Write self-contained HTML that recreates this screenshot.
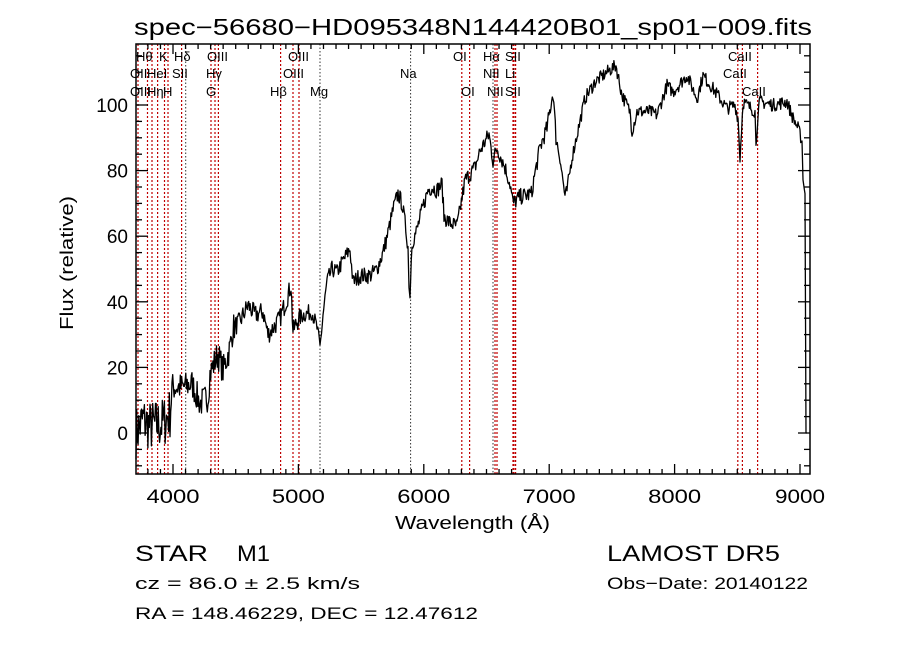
<!DOCTYPE html>
<html><head><meta charset="utf-8"><style>
html,body{margin:0;padding:0;background:#fff;}
svg{display:block;}
text{font-family:"Liberation Sans",sans-serif;fill:#000;}
</style></head><body>
<svg id="s" width="900" height="649" viewBox="0 0 900 649" xmlns="http://www.w3.org/2000/svg">
<rect width="900" height="649" fill="#fff"/>
<text x="473" y="35" font-size="23" text-anchor="middle" textLength="678" lengthAdjust="spacingAndGlyphs">spec−56680−HD095348N144420B01_sp01−009.fits</text>
<g id="lines"></g>
<g id="ticks" stroke="#000" stroke-width="1.3"></g>
<rect x="136" y="44" width="674" height="430" fill="none" stroke="#000" stroke-width="1.5"/>
<polyline id="spec" fill="none" stroke="#000" stroke-width="1.3" stroke-linejoin="round"/>
<g font-size="13" id="lab">
<text x="136" y="61">Hθ</text><text x="159" y="61">K</text><text x="174" y="61">Hδ</text><text x="207" y="61">OIII</text><text x="288" y="61">OIII</text><text x="453" y="61">OI</text><text x="483" y="61">Hα</text><text x="505" y="61">SII</text><text x="728" y="61">CaII</text>
<text x="130" y="78">OII</text><text x="147" y="78">HeI</text><text x="172" y="78">SII</text><text x="206" y="78">Hγ</text><text x="283" y="78">OIII</text><text x="400" y="78">Na</text><text x="483" y="78">NII</text><text x="505" y="78">Li</text><text x="723" y="78">CaII</text>
<text x="130" y="96">OIII</text><text x="147" y="96">Hη</text><text x="163" y="96">H</text><text x="206" y="96">G</text><text x="270" y="96">Hβ</text><text x="310" y="96">Mg</text><text x="461" y="96">OI</text><text x="487" y="96">NII</text><text x="505" y="96">SII</text><text x="742" y="96">CaII</text>
</g>
<g font-size="19" id="yl" text-anchor="end"></g>
<g font-size="19" id="xl" text-anchor="middle"></g>
<text x="395" y="529" font-size="18" textLength="155" lengthAdjust="spacingAndGlyphs">Wavelength (Å)</text>
<text transform="translate(73,263) rotate(-90)" font-size="18" text-anchor="middle" textLength="134" lengthAdjust="spacingAndGlyphs">Flux (relative)</text>
<text x="135" y="561" font-size="22" textLength="73" lengthAdjust="spacingAndGlyphs">STAR</text><text x="237" y="561" font-size="22" textLength="33" lengthAdjust="spacingAndGlyphs">M1</text>
<text x="135" y="589" font-size="17" textLength="225" lengthAdjust="spacingAndGlyphs">cz = 86.0 ± 2.5 km/s</text>
<text x="135" y="619" font-size="17" textLength="343" lengthAdjust="spacingAndGlyphs">RA = 148.46229, DEC =  12.47612</text>
<text x="607" y="561" font-size="22" textLength="173" lengthAdjust="spacingAndGlyphs">LAMOST DR5</text>
<text x="607" y="589" font-size="17" textLength="201" lengthAdjust="spacingAndGlyphs">Obs−Date: 20140122</text>
</svg>
<script>
var NS="http://www.w3.org/2000/svg";
function el(p,n,a){var e=document.createElementNS(NS,n);for(var k in a)e.setAttribute(k,a[k]);p.appendChild(e);return e;}
var T=44,B=474,L=136,R=810;
function X(l){return 173+(l-4000)*0.1254;}
function Y(v){return 433-3.28*v;}
var lg=document.getElementById('lines');
var red=[138,147.5,152,157.6,164.5,168,181.6,211,215,218.4,280.6,293,299,461.8,469.6,495,497,513,514,515.6,737.8,742.4,757.6];
var blk=[185.7,320,410.6,493];
red.forEach(function(x){el(lg,'line',{x1:x,x2:x,y1:T,y2:B,stroke:'#c00000','stroke-width':1.2,'stroke-dasharray':'2,2'});});
blk.forEach(function(x){el(lg,'line',{x1:x,x2:x,y1:T,y2:B,stroke:'#333','stroke-width':1,'stroke-dasharray':'1.5,2'});});
var tk=document.getElementById('ticks');
for(var l=3800;l<=9000;l+=100){var x=X(l),m=(l%1000==0)?10:5;el(tk,'line',{x1:x,x2:x,y1:B,y2:B-m});el(tk,'line',{x1:x,x2:x,y1:T,y2:T+m});}
for(var v=-10;v<=115;v+=5){var y=Y(v),m=(v%20==0)?12:6;el(tk,'line',{x1:L,x2:L+m,y1:y,y2:y});el(tk,'line',{x1:R,x2:R-m,y1:y,y2:y});}
var yl=document.getElementById('yl');
[0,20,40,60,80,100].forEach(function(v){var t=el(yl,'text',{x:128,y:Y(v)+7});t.textContent=v;});
var xl=document.getElementById('xl');
[4000,5000,6000,7000,8000,9000].forEach(function(v){var t=el(xl,'text',{x:X(v),y:503,textLength:(v==9000?50:53),lengthAdjust:'spacingAndGlyphs'});t.textContent=v;});
var P=[[136,0],[143,4],[150,2],[163,3],[170,6],[172,14],[183,14],[192,15],[200,9],[208,11],[210,18],[215,22],[218,24],[223,19],[230,26],[233,32],[240,34],[248,39],[255,36],[263,37],[268,30],[273,32],[280,35],[287,41],[291,45],[293,31],[297,34],[303,36],[312,37],[317,32],[320,26],[323,36],[327,46],[332,50],[337,49],[342,52],[350,56],[353,46],[360,48],[370,48],[377,50],[383,55],[388,61],[393,68],[398,73],[402,70],[405,64],[408,57],[409,44],[410,43],[412,58],[417,62],[423,69],[428,74],[432,75],[437,74],[442,76],[444,66],[450,64],[457,63],[460,68],[465,77],[475,81],[480,86],[489,91],[493,83],[497,87],[505,81],[510,76],[513,70],[520,72],[532,73],[533,76],[540,87],[547,93],[553,104],[556,90],[560,84],[565,72],[567,74],[572,84],[580,95],[585,102],[595,107],[607,110],[616,112],[620,106],[622,103],[630,98],[632,92],[637,98],[650,98],[657,97],[667,106],[673,104],[687,109],[697,102],[703,109],[713,105],[727,99],[735,100],[738,96],[740,84],[743,101],[755,98],[756,87],[758,98],[760,101],[773,100],[787,101],[793,96],[798,93],[802,89],[803,77],[805,73],[806,0],[807,0]];
var seed=7;function rnd(){seed=(seed*16807)%2147483647;return seed/2147483647-0.5;}
var pts=[];
for(var i=0;i<P.length-1;i++){var a=P[i],b=P[i+1];var n=Math.max(1,Math.round((b[0]-a[0])/0.7));
 if(b[0]-a[0]<1.5)n=1;
 for(var j=0;j<n;j++){var t=j/n,x=a[0]+(b[0]-a[0])*t,v=a[1]+(b[1]-a[1])*t;
  var amp=x<172?16:(x<235?9:(x<300?6:(x<560?5:4)));if(x>803)amp=0;
  v+=rnd()*amp;pts.push(x.toFixed(1)+','+Y(v).toFixed(1));}}
pts.push('807,'+Y(0));
document.getElementById('spec').setAttribute('points',pts.join(' '));
</script>
</body></html>
